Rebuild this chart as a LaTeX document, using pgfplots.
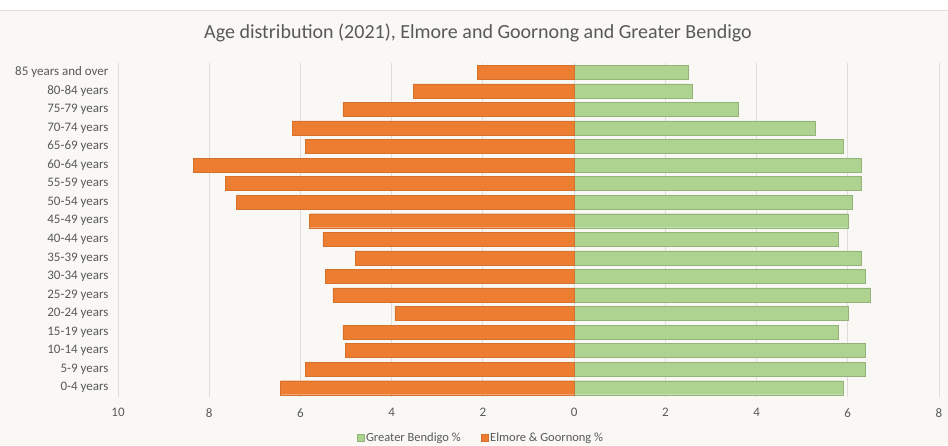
\documentclass[border=0pt]{standalone}
\usepackage{pgfplots}
\pgfplotsset{compat=1.18}
\usepackage{fontspec}
\setmainfont{Carlito}
\definecolor{bgc}{HTML}{F9F8F5}
\definecolor{txt}{HTML}{595959}
\definecolor{gridc}{HTML}{DEDDDA}
\definecolor{orng}{HTML}{ED7D31}
\definecolor{grn}{HTML}{AED391}
\begin{document}
\begin{tikzpicture}[x=1pt,y=1pt]
\path[use as bounding box] (0,0) rectangle (948,445);
\fill[bgc] (0,0) rectangle (948,445);
\fill[white] (0,435) rectangle (948,445);
\draw[gridc] (0,435) -- (948,435);
\node[txt,font=\fontsize{20}{24}\selectfont] at (478,412) {Age distribution (2021), Elmore and Goornong and Greater Bendigo};
\begin{axis}[
    at={(118pt,48pt)}, anchor=south west,
    scale only axis, width=821pt, height=334pt,
    xbar, bar width=14pt,
    xmin=-10, xmax=8, ymin=-0.5, ymax=17.5,
    xtick={-10,-8,...,8},
    xticklabels={10,8,6,4,2,0,2,4,6,8},
    ytick={0,...,17},
    yticklabels={0-4 years,5-9 years,10-14 years,15-19 years,20-24 years,25-29 years,30-34 years,35-39 years,40-44 years,45-49 years,50-54 years,55-59 years,60-64 years,65-69 years,70-74 years,75-79 years,80-84 years,85 years and over},
    axis line style={draw=none},
    major tick length=0pt,
    xmajorgrids, grid style={gridc, line width=0.8pt},
    tick label style={txt, font=\fontsize{13}{15}\selectfont},
    /pgf/number format/assume math mode=true,
    xticklabel style={yshift=-8pt},
    yticklabel style={xshift=-6pt},
    legend style={at={(0.442,-0.097)}, anchor=north, draw=none, fill=none,
      legend columns=2, font=\fontsize{12.5}{14}\selectfont, text=txt,
      inner sep=1pt,
      /tikz/every even column/.append style={column sep=18pt}},
    legend image code/.code={\fill[#1] (-2pt,-3.5pt) rectangle (5pt,3.5pt);},
]
\addplot[fill=grn, draw=grn!85!black, line width=0.4pt, bar shift=0pt] coordinates {
(5.89,0) (6.39,1) (6.39,2) (5.79,3) (6.00,4) (6.50,5) (6.39,6) (6.30,7) (5.79,8)
(6.00,9) (6.09,10) (6.30,11) (6.30,12) (5.89,13) (5.29,14) (3.59,15) (2.58,16) (2.50,17)};
\addlegendentry{Greater Bendigo \%}
\addplot[fill=orng, draw=orng!90!black, line width=0.4pt, bar shift=0pt] coordinates {
(-6.44,0) (-5.89,1) (-5.01,2) (-5.07,3) (-3.93,4) (-5.29,5) (-5.46,6) (-4.80,7) (-5.51,8)
(-5.80,9) (-7.41,10) (-7.65,11) (-8.35,12) (-5.89,13) (-6.18,14) (-5.07,15) (-3.53,16) (-2.12,17)};
\addlegendentry{Elmore \& Goornong \%}
\end{axis}
\end{tikzpicture}
\end{document}
